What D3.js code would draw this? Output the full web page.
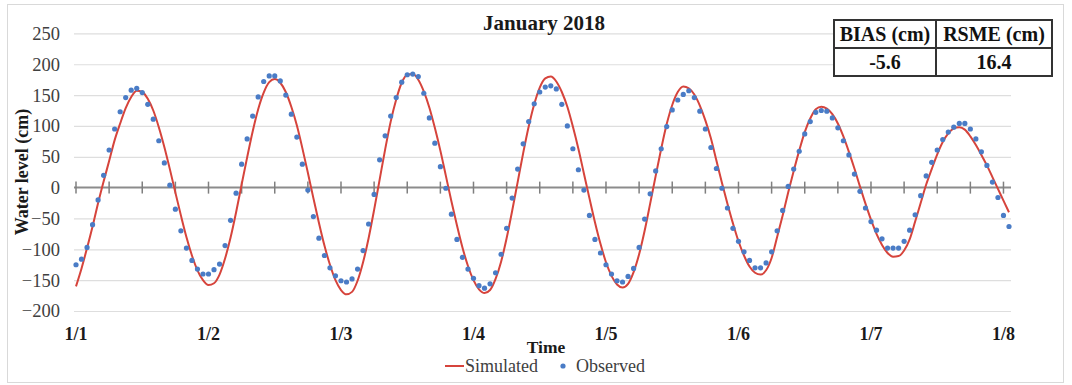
<!DOCTYPE html>
<html>
<head>
<meta charset="utf-8">
<script src="https://cdn.jsdelivr.net/npm/d3@7/dist/d3.min.js"></script>
<style>
  body { margin: 0; background: #fff; }
  svg { font-family: 'Liberation Serif', 'Times New Roman', serif; }
</style>
</head>
<body>
<div id="chart"></div>
<script>
// hourly values, 1/1 00:00 -> 1/8 01:00
const dayLabels = ['1/1', '1/2', '1/3', '1/4', '1/5', '1/6', '1/7', '1/8'];
const yTicks = [-200, -150, -100, -50, 0, 50, 100, 150, 200, 250];

const simulated = [
  -160, -131, -98, -63, -25, 10, 43, 77, 104, 129, 147, 157, 155, 144, 125, 98, 66, 30, -8, -45, -80, -110, -134, -150,
  -158, -155, -141, -115, -81, -40, 5, 49, 91, 127, 154, 171, 176, 170, 155, 131, 101, 64, 24, -17, -57, -94, -125, -150,
  -166, -173, -169, -151, -121, -82, -36, 13, 62, 107, 143, 170, 183, 184, 175, 156, 130, 97, 60, 19, -22, -61, -97, -127,
  -150, -165, -171, -166, -148, -120, -82, -38, 9, 56, 99, 135, 162, 177, 180, 172, 155, 131, 99, 63, 23, -17, -56, -91,
  -121, -143, -157, -162, -156, -137, -108, -70, -26, 19, 63, 103, 134, 155, 164, 161, 151, 133, 109, 80, 44, 8, -26, -58,
  -87, -110, -128, -138, -141, -134, -114, -80, -45, -8, 27, 60, 90, 112, 127, 131, 128, 119, 104, 83, 58, 31, 2, -26,
  -52, -75, -93, -106, -112, -111, -102, -84, -55, -25, 5, 30, 54, 74, 88, 96, 98, 94, 83, 69, 53, 36, 17, -2,
  -21, -40
];

const observed = [
  -125, -116, -97, -60, -20, 20, 61, 95, 123, 146, 158, 161, 154, 135, 111, 76, 40, 4, -35, -70, -98, -118, -132, -140,
  -140, -133, -124, -94, -53, -9, 38, 79, 116, 147, 172, 181, 181, 173, 150, 119, 82, 38, -4, -47, -82, -110, -130, -143,
  -151, -153, -148, -132, -102, -59, -11, 45, 84, 116, 146, 171, 183, 184, 180, 153, 113, 72, 34, -1, -43, -84, -113, -132,
  -147, -159, -163, -156, -138, -108, -66, -17, 30, 71, 107, 136, 155, 163, 165, 160, 135, 100, 63, 29, -4, -45, -84, -106,
  -125, -140, -151, -153, -144, -131, -97, -51, -10, 27, 63, 99, 126, 142, 151, 157, 146, 124, 95, 65, 31, -1, -33, -66,
  -87, -104, -118, -130, -130, -122, -104, -70, -37, 2, 30, 59, 87, 107, 122, 125, 124, 113, 97, 76, 53, 22, -6, -33,
  -55, -69, -83, -98, -98, -98, -87, -69, -44, -13, 19, 41, 61, 78, 90, 98, 104, 104, 95, 79, 58, 36, 9, -16,
  -45, -63
];

const tableHeaders = ['BIAS (cm)', 'RSME (cm)'];
const tableValues = ['-5.6', '16.4'];

const width = 1072;
const height = 385;
const margin = { top: 33.4, right: 62, bottom: 74, left: 76 };

const svg = d3.select('#chart')
  .append('svg')
  .attr('width', width)
  .attr('height', height);

// outer frame
svg.append('rect')
  .attr('x', 7.5).attr('y', 4.5)
  .attr('width', 1056).attr('height', 378)
  .attr('fill', '#fff')
  .attr('stroke', '#d9d9d9');

const x = d3.scaleLinear()
  .domain([0, simulated.length - 1])
  .range([margin.left, width - margin.right - 1]);

const y = d3.scaleLinear()
  .domain([-200, 250])
  .range([height - margin.bottom, margin.top]);

// gridlines
svg.append('g')
  .attr('class', 'grid')
  .attr('transform', 'translate(74,0)')
  .call(d3.axisLeft(y).tickValues(yTicks.filter(d => d !== 0)).tickSize(-937).tickFormat(''))
  .call(g => g.select('.domain').remove())
  .selectAll('.tick line')
  .attr('stroke', '#dedede')
  .attr('stroke-width', 1.2);

// y labels
svg.append('g')
  .attr('class', 'yAxis')
  .attr('transform', 'translate(74,0)')
  .call(d3.axisLeft(y).tickValues(yTicks).tickSize(0).tickPadding(14))
  .call(g => g.select('.domain').remove())
  .selectAll('.tick text')
  .attr('font-family', "'Liberation Serif', serif")
  .attr('font-size', 18.5)
  .attr('fill', '#404040');

// zero axis with cross ticks every 6 hours
const zeroAxis = svg.append('g').attr('class', 'xAxis');
zeroAxis.append('line')
  .attr('x1', 74).attr('x2', 1011)
  .attr('y1', y(0)).attr('y2', y(0))
  .attr('stroke', '#8c8c8c')
  .attr('stroke-width', 2);
zeroAxis.selectAll('line.tick')
  .data(d3.range(0, simulated.length, 6))
  .enter()
  .append('line')
  .attr('class', 'tick')
  .attr('x1', d => x(d)).attr('x2', d => x(d))
  .attr('y1', y(0) - 6).attr('y2', y(0) + 6)
  .attr('stroke', '#7f7f7f')
  .attr('stroke-width', 1.5);

// day labels
svg.append('g')
  .selectAll('text')
  .data(dayLabels)
  .enter()
  .append('text')
  .attr('x', (d, i) => x(i * 24))
  .attr('y', 340)
  .attr('text-anchor', 'middle')
  .attr('font-size', 18)
  .attr('font-weight', 700)
  .attr('fill', '#1a1a1a')
  .text(d => d);

// simulated line
svg.append('path')
  .datum(simulated)
  .attr('fill', 'none')
  .attr('stroke', '#d6443c')
  .attr('stroke-width', 2)
  .attr('stroke-linejoin', 'round')
  .attr('d', d3.line().x((d, i) => x(i)).y(d => y(d)).curve(d3.curveMonotoneX));

// observed dots
svg.append('g')
  .selectAll('circle')
  .data(observed)
  .enter()
  .append('circle')
  .attr('cx', (d, i) => x(i))
  .attr('cy', d => y(d))
  .attr('r', 2.6)
  .attr('fill', '#4a7cc6');

// titles
svg.append('text')
  .attr('x', 544).attr('y', 30)
  .attr('text-anchor', 'middle')
  .attr('font-size', 21)
  .attr('font-weight', 700)
  .attr('fill', '#1a1a1a')
  .text('January 2018');

svg.append('text')
  .attr('x', 546).attr('y', 353)
  .attr('text-anchor', 'middle')
  .attr('font-size', 17.5)
  .attr('font-weight', 700)
  .attr('fill', '#1a1a1a')
  .text('Time');

svg.append('text')
  .attr('transform', 'translate(28,172) rotate(-90)')
  .attr('text-anchor', 'middle')
  .attr('font-size', 18)
  .attr('font-weight', 700)
  .attr('fill', '#1a1a1a')
  .text('Water level (cm)');

// legend
const legend = svg.append('g').attr('class', 'legend');
legend.append('line')
  .attr('x1', 445).attr('x2', 464)
  .attr('y1', 366).attr('y2', 366)
  .attr('stroke', '#d6443c')
  .attr('stroke-width', 2);
legend.append('text')
  .attr('x', 465).attr('y', 372)
  .attr('font-size', 18)
  .attr('fill', '#404040')
  .text('Simulated');
legend.append('circle')
  .attr('cx', 563).attr('cy', 366)
  .attr('r', 2.6)
  .attr('fill', '#4a7cc6');
legend.append('text')
  .attr('x', 576).attr('y', 372)
  .attr('font-size', 18)
  .attr('fill', '#404040')
  .text('Observed');

// error table
const tbl = { x: 834, y: 20, colW: [102, 116], rowH: 28 };
const table = svg.append('g').attr('class', 'stats-table');
table.append('rect')
  .attr('x', tbl.x).attr('y', tbl.y)
  .attr('width', tbl.colW[0] + tbl.colW[1])
  .attr('height', tbl.rowH * 2)
  .attr('fill', '#fff')
  .attr('stroke', '#333')
  .attr('stroke-width', 2);
table.append('line')
  .attr('x1', tbl.x).attr('x2', tbl.x + tbl.colW[0] + tbl.colW[1])
  .attr('y1', tbl.y + tbl.rowH).attr('y2', tbl.y + tbl.rowH)
  .attr('stroke', '#333').attr('stroke-width', 2);
table.append('line')
  .attr('x1', tbl.x + tbl.colW[0]).attr('x2', tbl.x + tbl.colW[0])
  .attr('y1', tbl.y).attr('y2', tbl.y + tbl.rowH * 2)
  .attr('stroke', '#333').attr('stroke-width', 2);

const colCenter = i => tbl.x + (i === 0 ? tbl.colW[0] / 2 : tbl.colW[0] + tbl.colW[1] / 2);
[tableHeaders, tableValues].forEach((row, r) => {
  table.selectAll('text.row' + r)
    .data(row)
    .enter()
    .append('text')
    .attr('class', 'row' + r)
    .attr('x', (d, i) => colCenter(i))
    .attr('y', tbl.y + tbl.rowH * r + 21)
    .attr('text-anchor', 'middle')
    .attr('font-size', 20)
    .attr('font-weight', 700)
    .attr('fill', '#111')
    .text(d => d);
});
</script>
</body>
</html>
